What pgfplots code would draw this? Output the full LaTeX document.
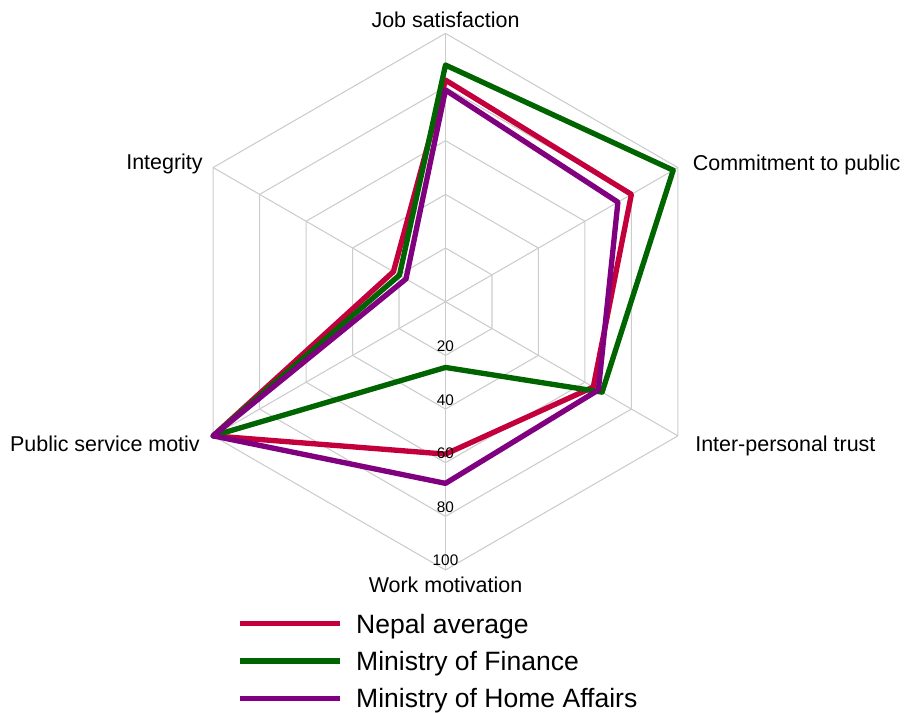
\documentclass[border=0pt]{standalone}
\usepackage{fontspec}
\setmainfont{Liberation Sans}
\usepackage{pgfplots}
\pgfplotsset{compat=1.18}
\usepgfplotslibrary{polar}
\definecolor{cnepal}{HTML}{C4003C}
\definecolor{cfin}{HTML}{006400}
\definecolor{chome}{HTML}{800080}
\definecolor{cgrid}{HTML}{CCCCCC}
\begin{document}
\begin{tikzpicture}
\begin{axis}[
  hide axis,
  x=2.0125pt, y=2.0125pt,
  xmin=-100, xmax=100, ymin=-100, ymax=100,
  clip=false,
  legend style={draw=none, fill=none, inner sep=0pt, outer sep=0pt,
    at={(axis cs:-77.5,-116.4)}, anchor=north west,
    row sep=13.85pt, column sep=10pt,
    font=\fontsize{19.9}{23}\selectfont,
    nodes={inner sep=0pt, text height=14.25pt, text depth=0pt}},
  legend cell align=left,
  legend image code/.code={\draw[#1, line cap=butt] (0pt,0pt) -- (75pt,0pt);},
]
% grid hexagons
\addplot[cgrid, line width=0.8pt, data cs=polar, forget plot] coordinates {(90,20) (30,20) (330,20) (270,20) (210,20) (150,20) (90,20)};
\addplot[cgrid, line width=0.8pt, data cs=polar, forget plot] coordinates {(90,40) (30,40) (330,40) (270,40) (210,40) (150,40) (90,40)};
\addplot[cgrid, line width=0.8pt, data cs=polar, forget plot] coordinates {(90,60) (30,60) (330,60) (270,60) (210,60) (150,60) (90,60)};
\addplot[cgrid, line width=0.8pt, data cs=polar, forget plot] coordinates {(90,80) (30,80) (330,80) (270,80) (210,80) (150,80) (90,80)};
\addplot[cgrid, line width=0.8pt, data cs=polar, forget plot] coordinates {(90,100) (30,100) (330,100) (270,100) (210,100) (150,100) (90,100)};
% spokes
\addplot[cgrid, line width=0.8pt, data cs=polar, forget plot] coordinates {(90,0) (90,100)};
\addplot[cgrid, line width=0.8pt, data cs=polar, forget plot] coordinates {(30,0) (30,100)};
\addplot[cgrid, line width=0.8pt, data cs=polar, forget plot] coordinates {(330,0) (330,100)};
\addplot[cgrid, line width=0.8pt, data cs=polar, forget plot] coordinates {(270,0) (270,100)};
\addplot[cgrid, line width=0.8pt, data cs=polar, forget plot] coordinates {(210,0) (210,100)};
\addplot[cgrid, line width=0.8pt, data cs=polar, forget plot] coordinates {(150,0) (150,100)};
% data
\addplot[cnepal, line width=4pt, line join=round, line cap=round, data cs=polar] coordinates {(90,82.6) (30,80.0) (330,63.6) (270,56.8) (210,100) (150,22.4) (90,82.6)};
\addlegendentry{Nepal average}
\addplot[cfin, line width=4pt, line join=round, line cap=round, data cs=polar] coordinates {(90,88.2) (30,98.0) (330,67.4) (270,24.5) (210,100) (150,19.8) (90,88.2)};
\addlegendentry{Ministry of Finance}
\addplot[chome, line width=4pt, line join=round, line cap=round, data cs=polar] coordinates {(90,78.9) (30,74.2) (330,65.8) (270,67.7) (210,100) (150,17.0) (90,78.9)};
\addlegendentry{Ministry of Home Affairs}
% radial tick labels
\foreach \r in {20,40,60,80,100} {
  \edef\tmp{\noexpand\node[anchor=base, inner sep=0pt, font=\noexpand\fontsize{11.5}{13}\noexpand\selectfont] at (axis cs:0,-\r+1.5) {\r};}
  \tmp
}
% axis labels
\begin{scope}[every node/.style={inner sep=0pt, font=\fontsize{16.1}{19}\selectfont}]
\node[anchor=base] at (axis cs:0,102.2) {Job satisfaction};
\node[anchor=base west] at (axis cs:92.1,48.8) {Commitment to public};
\node[anchor=base west] at (axis cs:93.0,-55.9) {Inter-personal trust};
\node[anchor=base] at (axis cs:0,-108.5) {Work motivation};
\node[anchor=base east] at (axis cs:-91.5,-55.9) {Public service motiv};
\node[anchor=base east] at (axis cs:-90.4,49.2) {Integrity};
\end{scope}
\path (axis cs:-166.04,112.45) rectangle (axis cs:171.26,-152.93);
\end{axis}
\end{tikzpicture}
\end{document}
